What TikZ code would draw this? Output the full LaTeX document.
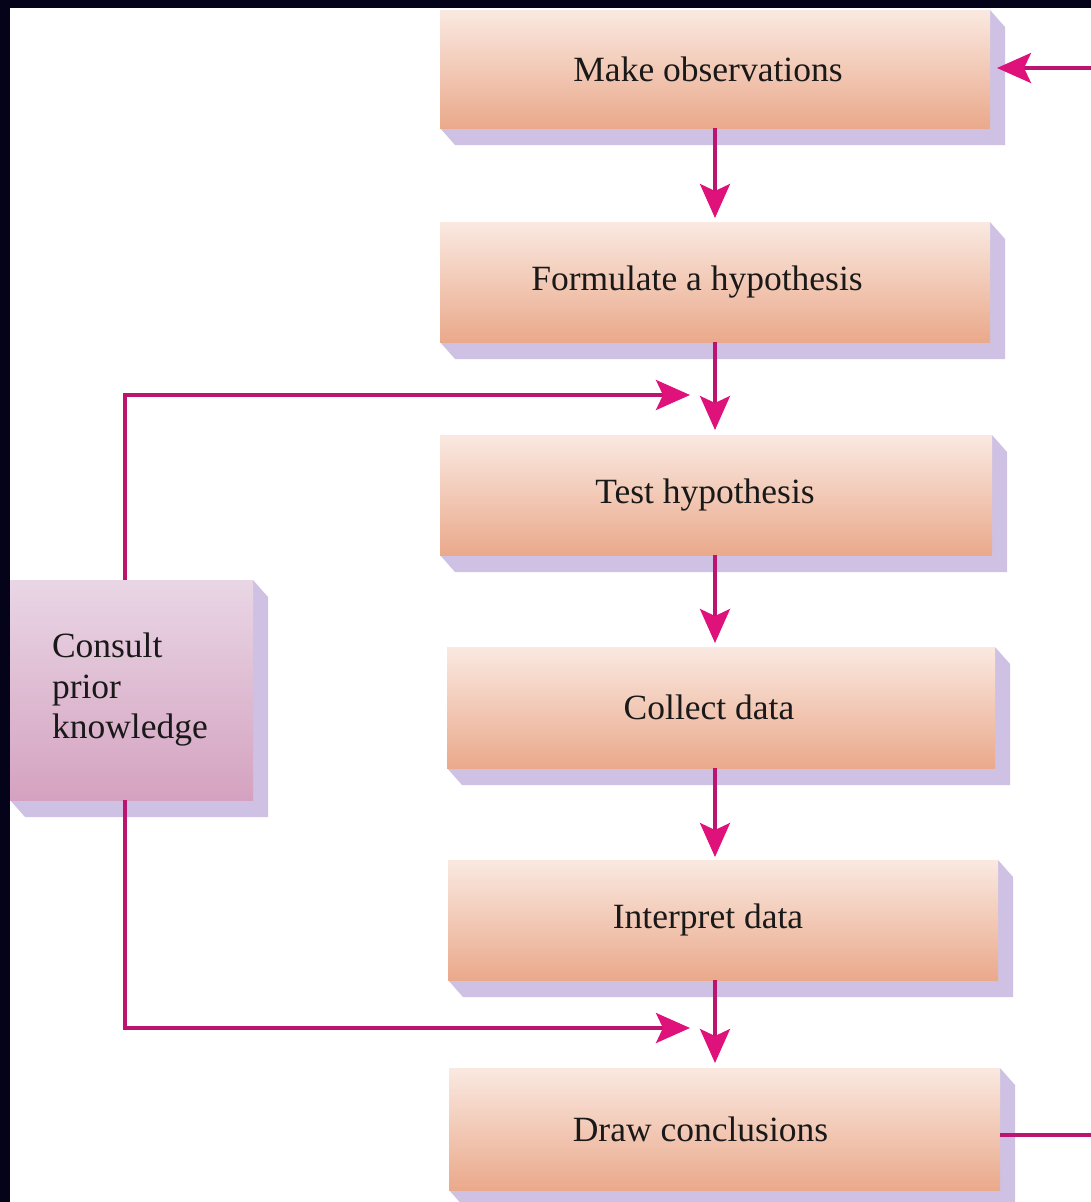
\documentclass[tikz,border=0pt]{standalone}
\usepackage{fontspec}
\setmainfont{Liberation Serif}
\usetikzlibrary{arrows.meta,calc}
\definecolor{frame}{HTML}{04031A}
\definecolor{boxtop}{HTML}{FAE9E1}
\definecolor{boxbot}{HTML}{EAA98B}
\definecolor{ktop}{HTML}{E9D6E5}
\definecolor{kbot}{HTML}{D4A2C0}
\definecolor{shadowc}{HTML}{CFC1E3}
\definecolor{linec}{HTML}{BC1570}
\definecolor{headc}{HTML}{DF127C}
\pgfdeclarelayer{back}
\pgfdeclarelayer{shad}
\pgfsetlayers{back,shad,main}
\begin{document}
\begin{tikzpicture}[x=1pt,y=-1pt,
  stepbox/.style={rectangle, outer sep=0pt, inner sep=0pt, minimum height=120pt,
    top color=boxtop, bottom color=boxbot, draw=none,
    font=\fontsize{35.5}{40.5}\selectfont, text=black!90},
  kbox/.style={stepbox, top color=ktop, bottom color=kbot},
  conn/.style={draw=linec, line width=3.6pt},
  arr/.style={conn, -{Stealth[length=34pt,width=30pt,inset=7pt,color=headc]}}]
\useasboundingbox (0,0) rectangle (1091,1202);
\begin{pgfonlayer}{back}
  \fill[frame] (0,0) rectangle (1091,1202);
  \fill[white] (10,8) rectangle (1091,1202);
\end{pgfonlayer}

\node[stepbox, minimum width=550pt, minimum height=118pt] (b1) at (715,69) {\hspace*{-14pt}Make observations};
\node[stepbox, minimum width=550pt] (b2) at (715,282) {\hspace*{-36pt}Formulate a hypothesis};
\node[stepbox, minimum width=552pt] (b3) at (716,495) {\hspace*{-22pt}Test hypothesis};
\node[stepbox, minimum width=548pt, minimum height=121pt] (b4) at (721,707.5) {\hspace*{-24pt}Collect data};
\node[stepbox, minimum width=550pt] (b5) at (723,920) {\hspace*{-30pt}Interpret data};
\node[stepbox, minimum width=551pt, minimum height=122pt] (b6) at (724.5,1129) {\hspace*{-48pt}Draw conclusions};
\node[kbox, minimum width=243pt, minimum height=220pt, text width=159pt, inner xsep=42pt, align=left] (k) at (131.5,690) {Consult\\prior\\knowledge};

\begin{pgfonlayer}{shad}
  \foreach \n in {b1,b2,b3,b4,b5,b6,k} {
    \fill[shadowc] (\n.north east) -- ($(\n.north east)+(15,17)$) -- ($(\n.south east)+(15,17)$)
      -- ($(\n.south west)+(15,17)$) -- (\n.south west) -- cycle;
  }
\end{pgfonlayer}

\coordinate (ax) at (715,0);
\coordinate (lx) at (125,0);
\draw[arr] (b1.south -| ax) -- ($(b2.north -| ax)+(0,-4)$);
\draw[arr] (b2.south -| ax) -- ($(b3.north -| ax)+(0,-5)$);
\draw[arr] (b3.south -| ax) -- ($(b4.north -| ax)+(0,-4)$);
\draw[arr] (b4.south -| ax) -- ($(b5.north -| ax)+(0,-3)$);
\draw[arr] (b5.south -| ax) -- ($(b6.north -| ax)+(0,-5)$);

\coordinate (j1) at (690,395);
\coordinate (j2) at (690,1028);
\draw[arr] (k.north -| lx) |- (j1);
\draw[arr] (k.south -| lx) |- (j2);

\coordinate (r1) at (1091,1135);
\coordinate (r2) at (1091,68);
\draw[conn] (r1 -| b6.east) -- (r1);
\draw[arr] (r2) -- ($(r2 -| b1.east)+(7,0)$);
\end{tikzpicture}
\end{document}
